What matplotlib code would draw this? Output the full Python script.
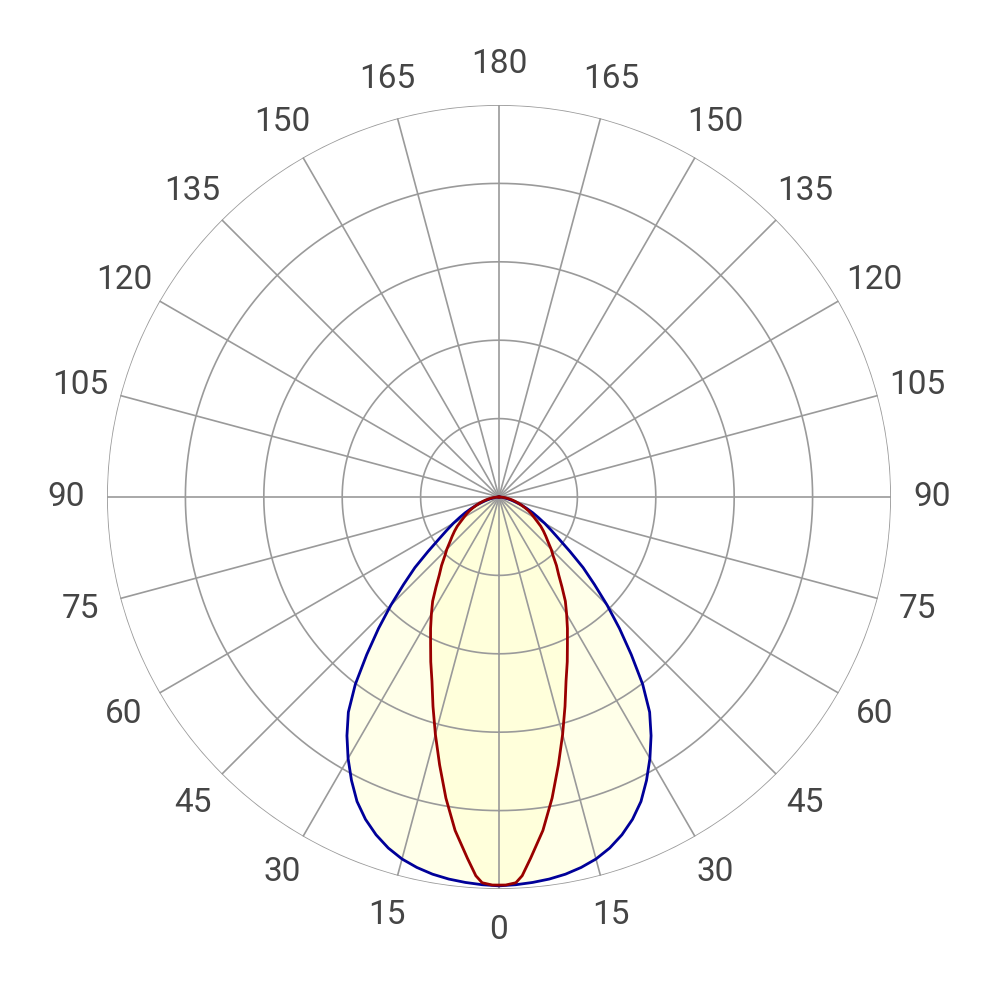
import numpy as np
import matplotlib
matplotlib.use("Agg")
import matplotlib.pyplot as plt

# Half-plane intensity readings (degrees from nadir, relative to outer ring = 1)
blue_angles = [0, 2.5, 5, 7.5, 10, 12.5, 15, 17.5, 20, 22.5, 25, 27.5, 30, 32.5, 35,
               37.5, 40, 42.5, 45, 47.5, 50, 52.5, 55, 57.5, 60, 62.5, 65, 67.5, 70,
               72.5, 75, 77.5, 80, 82.5, 85, 87.5, 90]
blue_values = [0.992, 0.990, 0.987, 0.983, 0.977, 0.968, 0.956, 0.939, 0.917, 0.890,
               0.857, 0.815, 0.770, 0.722, 0.670, 0.602, 0.525, 0.455, 0.390, 0.330,
               0.280, 0.228, 0.187, 0.158, 0.135, 0.113, 0.095, 0.077, 0.062, 0.046,
               0.035, 0.026, 0.018, 0.011, 0.006, 0.002, 0.0]

red_angles = [0, 1, 2.5, 3.5, 5, 7.5, 10, 12.5, 15, 17.5, 20, 22.5, 25, 27.5, 30, 32.5,
              35, 37.5, 40, 42.5, 45, 47.5, 50, 52.5, 55, 57.5, 60, 62.5, 65, 67.5, 70,
              72.5, 75, 77.5, 80, 82.5, 85, 87.5, 90]
red_values = [0.990, 0.990, 0.985, 0.968, 0.925, 0.858, 0.780, 0.700, 0.627, 0.560,
              0.500, 0.455, 0.413, 0.378, 0.345, 0.315, 0.280, 0.250, 0.228, 0.205,
              0.188, 0.170, 0.156, 0.143, 0.130, 0.115, 0.103, 0.093, 0.083, 0.072,
              0.061, 0.052, 0.043, 0.034, 0.026, 0.018, 0.011, 0.005, 0.0]

tick_angles = list(range(0, 360, 15))
tick_labels = [str(a if a <= 180 else 360 - a) for a in tick_angles]
ring_levels = [0.2, 0.4, 0.6, 0.8, 1.0]


def mirror(angles, values):
    a = np.array(angles, dtype=float)
    v = np.array(values, dtype=float)
    th = np.concatenate([-a[::-1], a[1:]])
    r = np.concatenate([v[::-1], v[1:]])
    return np.deg2rad(th), r


fig = plt.figure(figsize=(10, 10), dpi=100)
ax = fig.add_axes([0.107, 0.111, 0.784, 0.784], projection="polar")
ax.set_theta_zero_location("S")
ax.set_ylim(0, 1.0)

grid_color = "#9a9a9a"
tt = np.linspace(0, 2 * np.pi, 721)
for lvl in ring_levels:
    ax.plot(tt, np.full_like(tt, lvl), color=grid_color, lw=1.2, zorder=1)
for a in tick_angles:
    ax.plot([np.deg2rad(a), np.deg2rad(a)], [0, 1.0], color=grid_color, lw=1.2, zorder=1)

ax.grid(False)
ax.spines["polar"].set_visible(False)
ax.set_xticks([])
ax.set_yticks([])

tb, rb = mirror(blue_angles, blue_values)
tr, rr = mirror(red_angles, red_values)

ax.fill(tb, rb, color="#FFFFD0", alpha=0.45, lw=0, zorder=0.5)
ax.fill(tr, rr, color="#FFFFD0", alpha=0.55, lw=0, zorder=0.6)
ax.plot(tb, rb, color="#000099", lw=2.0, zorder=3, solid_joinstyle="round")
ax.plot(tr, rr, color="#990000", lw=2.0, zorder=3, solid_joinstyle="round")

for a, lab in zip(tick_angles, tick_labels):
    ax.text(np.deg2rad(a), 1.105, lab, ha="center", va="center",
            fontsize=24, color="#454545", family=["Roboto", "DejaVu Sans"],
            clip_on=False)

fig.savefig("out.png", dpi=100, facecolor="white")
